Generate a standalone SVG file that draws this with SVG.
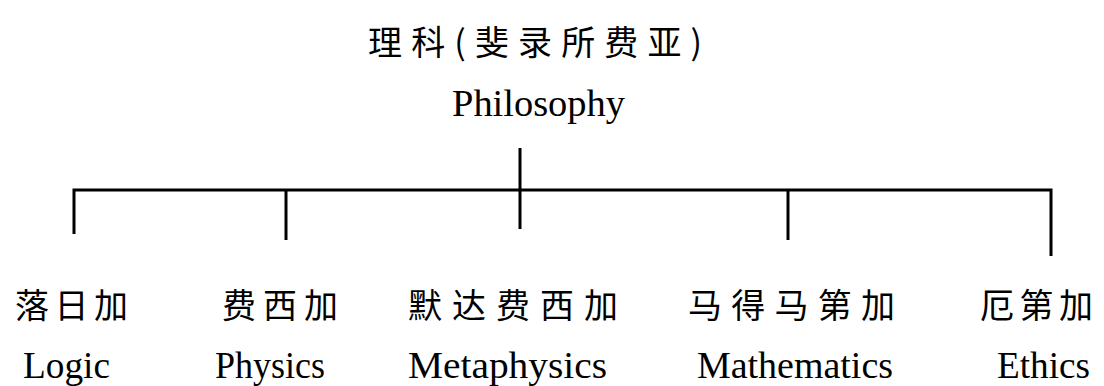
<svg xmlns="http://www.w3.org/2000/svg" width="1104" height="386" viewBox="0 0 1104 386">
<style>
.zh{font-family:"Noto Sans CJK SC","Noto Sans CJK JP",sans-serif;font-size:34px;fill:#000}
.en{font-family:"Liberation Serif","Times New Roman",serif;font-size:38px;fill:#000}
.ln{stroke:#000;stroke-width:3;fill:none;stroke-linecap:butt}
</style>
<rect width="1104" height="386" fill="#fff"/>
<g id="root">
<text class="zh" x="368" y="55" textLength="334" lengthAdjust="spacing">理科(斐录所费亚)</text>
<text class="en" x="452" y="116" textLength="173" lengthAdjust="spacingAndGlyphs">Philosophy</text>
</g>
<g id="connectors">
<line class="ln" x1="520" y1="148" x2="520" y2="229"/>
<polyline class="ln" points="74,234 74,190 1051,190 1051,256"/>
<line class="ln" x1="286" y1="190" x2="286" y2="240"/>
<line class="ln" x1="788" y1="190" x2="788" y2="240"/>
</g>
<g id="logic">
<text class="zh" x="15" y="318" textLength="113" lengthAdjust="spacing">落日加</text>
<text class="en" x="23" y="378" textLength="87" lengthAdjust="spacingAndGlyphs">Logic</text>
</g>
<g id="physics">
<text class="zh" x="222" y="318" textLength="116" lengthAdjust="spacing">费西加</text>
<text class="en" x="215" y="378" textLength="110" lengthAdjust="spacingAndGlyphs">Physics</text>
</g>
<g id="metaphysics">
<text class="zh" x="408" y="318" textLength="210" lengthAdjust="spacing">默达费西加</text>
<text class="en" x="408" y="378" textLength="199" lengthAdjust="spacingAndGlyphs">Metaphysics</text>
</g>
<g id="mathematics">
<text class="zh" x="688" y="318" textLength="207" lengthAdjust="spacing">马得马第加</text>
<text class="en" x="697" y="378" textLength="196" lengthAdjust="spacingAndGlyphs">Mathematics</text>
</g>
<g id="ethics">
<text class="zh" x="980" y="318" textLength="113" lengthAdjust="spacing">厄第加</text>
<text class="en" x="997" y="378" textLength="93" lengthAdjust="spacingAndGlyphs">Ethics</text>
</g>
</svg>
